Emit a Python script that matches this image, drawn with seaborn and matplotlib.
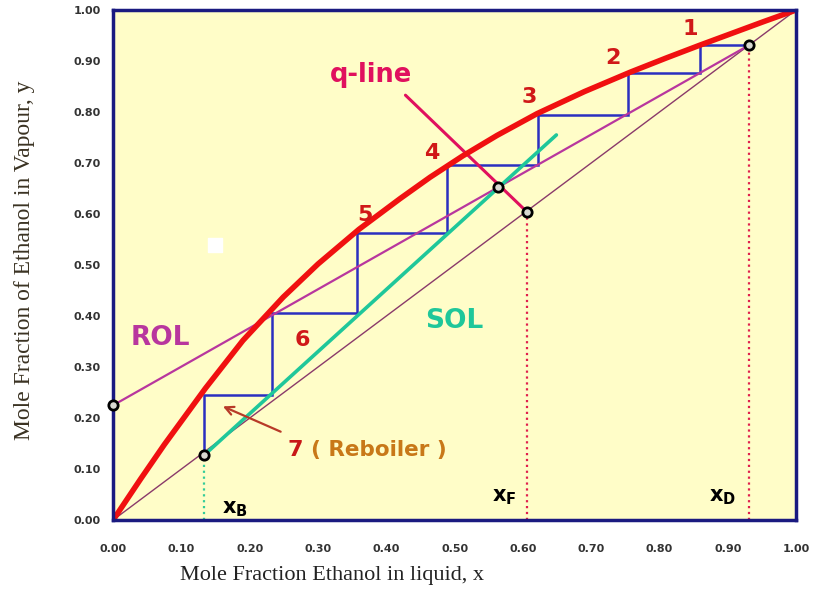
import numpy as np
import pandas as pd
import matplotlib
matplotlib.use("Agg")
import matplotlib.pyplot as plt
from matplotlib.ticker import MultipleLocator, FormatStrFormatter
import seaborn as sns

# ---- data ----
eq_x = [0.0, 0.04, 0.075, 0.135, 0.19, 0.249, 0.3, 0.36, 0.42, 0.464, 0.512, 0.562,
        0.621, 0.69, 0.757, 0.81, 0.859, 0.952, 1.0]
eq_y = [0.0, 0.08, 0.148, 0.258, 0.352, 0.437, 0.502, 0.570, 0.630, 0.672, 0.714, 0.754,
        0.797, 0.84, 0.878, 0.906, 0.931, 0.977, 1.0]

xD = 0.931
xF = 0.606
xB = 0.133
rol_x = [0.0, xD]
rol_y = [0.225, xD]
sol_x = [xB, 0.649]
sol_y = [0.127, 0.755]
qline_x = [xF, 0.428]
qline_y = [0.604, 0.833]
diag = [0.0, 1.0]

stage_x = [0.859, 0.754, 0.622, 0.489, 0.357, 0.233, 0.133]
stage_y = [0.931, 0.876, 0.794, 0.696, 0.563, 0.406, 0.245]
stage_bottom = 0.127

pts_x = [0.0, xB, 0.564, xF, xD]
pts_y = [0.225, 0.127, 0.653, 0.604, xD]

stage_labels = ["1", "2", "3", "4", "5", "6"]
stage_lab_x = [0.845, 0.732, 0.61, 0.467, 0.369, 0.277]
stage_lab_y = [0.962, 0.906, 0.83, 0.72, 0.598, 0.353]

# ---- figure ----
sns.set_theme(style="white")
plt.rcParams["font.family"] = ["DejaVu Sans"]
plt.rcParams["mathtext.fontset"] = "dejavusans"

fig = plt.figure(figsize=(8.14, 5.92), dpi=100)
ax = fig.add_axes([0.139, 0.1216, 0.839, 0.8615])
ax.set_facecolor("#FFFDC8")


def path(x, y, **kw):
    df = pd.DataFrame({"x": x, "y": y})
    sns.lineplot(data=df, x="x", y="y", estimator=None, sort=False, ax=ax, **kw)


# diagonal
path(diag, diag, color="#8A3A6A", lw=1.0)

# stair steps built from stage arrays
sx, sy = [xD], [stage_y[0]]
for i in range(len(stage_x)):
    sx.append(stage_x[i]); sy.append(stage_y[i])
    nxt = stage_y[i + 1] if i + 1 < len(stage_y) else stage_bottom
    sx.append(stage_x[i]); sy.append(nxt)
ax.plot(sx, sy, color="#2B2FC0", lw=1.8, solid_joinstyle="miter")

# operating lines
path(rol_x, rol_y, color="#B8369E", lw=1.6)
path(sol_x, sol_y, color="#1FC79A", lw=2.6)
path(qline_x, qline_y, color="#E0105E", lw=2.2)

# equilibrium curve
path(eq_x, eq_y, color="#F01010", lw=4.0)

# dotted verticals
ax.plot([xB, xB], [0, stage_bottom], color="#33CC99", lw=1.6, ls=":")
ax.plot([xF, xF], [0, 0.604], color="#E0204E", lw=1.6, ls=":")
ax.plot([xD, xD], [0, xD], color="#E0204E", lw=1.6, ls=":")

# circles
sns.scatterplot(x=pts_x, y=pts_y, ax=ax, s=45, color="#D8D8D0", edgecolor="black",
                linewidth=2.0, zorder=6, clip_on=False)

# small white square (present in the reference)
ax.scatter([0.149], [0.539], marker="s", s=90, color="white", zorder=2)

# texts
for lab, x, y in zip(stage_labels, stage_lab_x, stage_lab_y):
    ax.text(x, y, lab, color="#D01818", fontsize=16, fontweight="bold", ha="center", va="center")
ax.text(0.255, 0.137, "7", color="#C81818", fontsize=16, fontweight="bold", ha="left", va="center")
ax.text(0.29, 0.137, "( Reboiler )", color="#C87818", fontsize=15.5, fontweight="bold",
        ha="left", va="center")
ax.text(0.318, 0.873, "q-line", color="#E0105E", fontsize=18.5, fontweight="bold", ha="left", va="center")
ax.text(0.025, 0.357, "ROL", color="#B8369E", fontsize=19, fontweight="bold", ha="left", va="center")
ax.text(0.457, 0.39, "SOL", color="#1FC79A", fontsize=19, fontweight="bold", ha="left", va="center")
ax.text(0.16, 0.022, r"$\mathbf{x_B}$", color="black", fontsize=15, ha="left", va="center")
ax.text(0.555, 0.045, r"$\mathbf{x_F}$", color="black", fontsize=15, ha="left", va="center")
ax.text(0.873, 0.045, r"$\mathbf{x_D}$", color="black", fontsize=15, ha="left", va="center")

ax.annotate("", xy=(0.157, 0.225), xytext=(0.249, 0.171),
            arrowprops=dict(arrowstyle="->", color="#B83A28", lw=1.6, mutation_scale=15))

# axes styling
ax.set_xlim(0, 1)
ax.set_ylim(0, 1)
ax.xaxis.set_major_locator(MultipleLocator(0.1))
ax.yaxis.set_major_locator(MultipleLocator(0.1))
ax.xaxis.set_minor_locator(MultipleLocator(0.05))
ax.yaxis.set_minor_locator(MultipleLocator(0.05))
ax.xaxis.set_major_formatter(FormatStrFormatter("%.2f"))
ax.yaxis.set_major_formatter(FormatStrFormatter("%.2f"))
ax.tick_params(which="major", direction="inout", length=6, width=1.2, color="#1A1A80",
               labelsize=8)
ax.tick_params(axis="x", which="major", pad=14)
ax.tick_params(axis="y", which="major", pad=6)
ax.tick_params(which="minor", direction="in", length=3, width=1.0, color="#1A1A80")
for lbl in ax.get_xticklabels() + ax.get_yticklabels():
    lbl.set_fontweight("bold")
    lbl.set_color("#333333")
for sp in ax.spines.values():
    sp.set_color("#1A1A80")
    sp.set_linewidth(2.5)
    sp.set_visible(True)

ax.set_xlabel("Mole Fraction Ethanol in liquid, x", family=["Liberation Serif"], fontsize=16,
              color="#222222")
ax.set_ylabel("Mole Fraction of Ethanol in Vapour, y", family=["Liberation Serif"], fontsize=17,
              color="#3A3222")
ax.xaxis.set_label_coords(0.32, -0.09)
ax.yaxis.set_label_coords(-0.115, 0.51)

fig.savefig("out.png", dpi=100, facecolor="white")
